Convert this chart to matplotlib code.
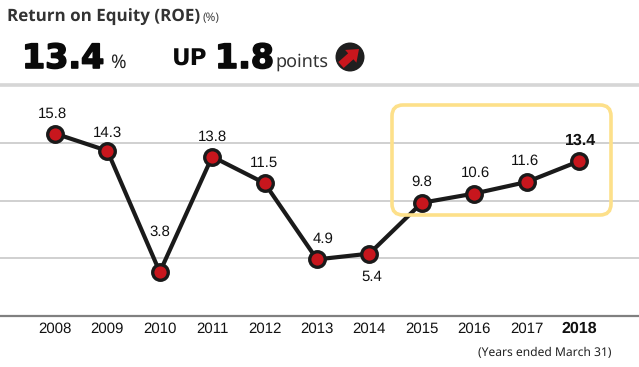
import matplotlib
matplotlib.use("Agg")
import matplotlib.pyplot as plt
import matplotlib.patheffects as pe
from matplotlib.patches import Circle, FancyArrow, FancyBboxPatch
from matplotlib.transforms import Affine2D

plt.rcParams["text.hinting"] = "no_hinting"
plt.rcParams["text.hinting_factor"] = 1

W, H = 639, 367

years = [2008, 2009, 2010, 2011, 2012, 2013, 2014, 2015, 2016, 2017, 2018]
roe = [15.8, 14.3, 3.8, 13.8, 11.5, 4.9, 5.4, 9.8, 10.6, 11.6, 13.4]
labels = ["15.8", "14.3", "3.8", "13.8", "11.5", "4.9", "5.4", "9.8", "10.6", "11.6", "13.4"]
# pixel offsets of the value labels, 5.4 sits under its point
label_dx = [-3, 0, 0, 0, -1, 6, 2, 0, 1, -2, 2]
label_dy = [20, 18, 40, 20, 20, 20, -23, 21, 21, 21, 21]
grid_vals = [5, 10, 15, 20]

fig = plt.figure(figsize=(W / 100, H / 100), dpi=100)
# y-flipped pixel space for header and decorations
px = Affine2D().scale(1, -1).translate(0, H)

ax = fig.add_axes([0, (H - 316) / H, 1, (316 - 85) / H])
ax.set_xlim(2008 - 55 / 52.4, 2018 + 60 / 52.4)
ax.set_ylim(0, 20)
ax.patch.set_alpha(0)
for s in ["top", "left", "right"]:
    ax.spines[s].set_visible(False)
ax.spines["bottom"].set_color("#808080")
ax.spines["bottom"].set_linewidth(1.6)
ax.set_yticks([])
ax.set_xticks(years)
ax.set_xticklabels(years, family="Liberation Sans", fontsize=10.5, color="#111111")
ax.tick_params(axis="x", length=0, pad=4)
ax.get_xticklabels()[-1].set_fontweight("bold")
ax.get_xticklabels()[-1].set_fontsize(11.5)

for g in grid_vals:
    c = "#d6d6d6" if g == 20 else "#d0d0d0"
    ax.axhline(g, color=c, lw=2.6 if g == 20 else 1.4, zorder=1, clip_on=False)

box = FancyBboxPatch((392, 105), 219, 110, boxstyle="round,pad=0,rounding_size=11",
                     fc="none", ec="#fde08a", lw=2.6, transform=px, zorder=2)
fig.add_artist(box)

ax.plot(years, roe, color="#1a1a1a", lw=3, zorder=3, clip_on=False,
        marker="o", ms=11.2, mfc="#c8161d", mec="#1a1a1a", mew=2.4)

for i, (x, y) in enumerate(zip(years, roe)):
    last = i == len(years) - 1
    ax.annotate(labels[i], (x, y), xytext=(label_dx[i], label_dy[i]), textcoords="offset pixels",
                ha="center", va="center", family="Liberation Sans",
                fontsize=11.5 if last else 11, fontweight="bold" if last else "normal",
                color="#111111", zorder=4)

# header
fig.text(7 / W, 1 - 18 / H, "Return on Equity (ROE)", family="Open Sans", fontsize=12.3,
         fontweight="bold", color="#333333", va="center")
fig.text(203 / W, 1 - 18.5 / H, "(%)", family="Noto Sans", fontsize=8.5, color="#444444", va="center")

heavy = [pe.withStroke(linewidth=1.2, foreground="#0a0a0a")]
fig.text(22 / W, 1 - 68 / H, "13.4", family="DejaVu Sans", fontsize=24, fontweight="bold",
         color="#0a0a0a", va="baseline", path_effects=heavy)
fig.text(110 / W, 1 - 68 / H, "%", family="Noto Sans", fontsize=13.5, fontweight="medium",
         color="#222222", va="baseline")
fig.text(172 / W, 1 - 66 / H, "UP", family="DejaVu Sans", fontsize=16.5, fontweight="bold",
         color="#0a0a0a", va="baseline")
fig.text(215 / W, 1 - 68 / H, "1.8", family="DejaVu Sans", fontsize=24, fontweight="bold",
         color="#0a0a0a", va="baseline", path_effects=heavy)
fig.text(275 / W, 1 - 67 / H, "points", family="Noto Sans", fontsize=13, fontweight="medium",
         color="#333333", va="baseline")

fig.add_artist(Circle((350, 57), 14.5, fc="#1f1f1f", ec="none", transform=px))
fig.add_artist(FancyArrow(341, 65, 18, -16, width=8, head_width=17, head_length=11,
                          length_includes_head=True, fc="#c8161d", ec="none", transform=px))

fig.text(611 / W, 1 - 353 / H, "(Years ended March 31)", family="Noto Sans", fontsize=8.7,
         color="#222222", ha="right", va="center")

fig.savefig("out.png", dpi=100)
